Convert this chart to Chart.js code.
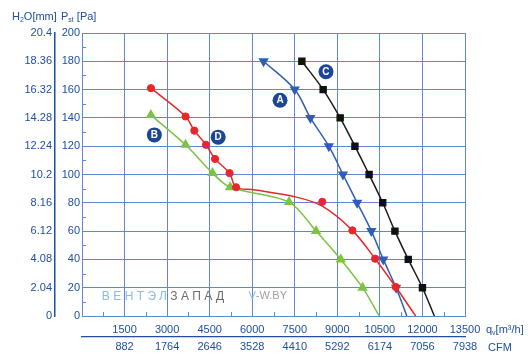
<!DOCTYPE html>
<html>
<head>
<meta charset="utf-8">
<script src="https://cdn.jsdelivr.net/npm/chart.js@4/dist/chart.umd.min.js"></script>
<style>
  body { margin: 0; background: #fff; }
  #wrap { width: 532px; height: 361px; position: relative; }
</style>
</head>
<body>
<div id="wrap"><canvas id="grafico"></canvas></div>
<script>
// datos
var flowTicks = ['1500', '3000', '4500', '6000', '7500', '9000', '10500', '12000', '13500'];
var cfmTicks = ['882', '1764', '2646', '3528', '4410', '5292', '6174', '7056', '7938'];
var h2oTicks = ['0', '2.04', '4.08', '6.12', '8.16', '10.2', '12.24', '14.28', '16.32', '18.36', '20.4'];

// curva A (azul)
var flowA = [6400, 7500, 8050, 8700, 9200, 9700, 10200, 10620, 11070, 11450];
var pressA = [180, 160, 140, 120, 100, 80, 60, 40, 20, 0];
// curva B (verde)
var flowB = [2430, 3650, 4600, 5220, 7300, 8250, 9120, 9890, 10480];
var pressB = [142, 121, 101, 91, 80.5, 60, 40, 20, 0];
// curva C (negra)
var flowC = [7750, 8500, 9100, 9620, 10120, 10600, 11030, 11500, 12000, 12420];
var pressC = [180, 160, 140, 120, 100, 80, 60, 40, 20, 0];
// curva D (roja): la linea y los puntos no coinciden del todo
var flowDLine = [2430, 3650, 3960, 4370, 4690, 5200, 5430, 6000, 7500, 8470, 9530, 10330, 11060, 11760];
var pressDLine = [161, 141, 131, 121, 111, 101, 91, 89.4, 84.3, 77.6, 60.5, 40.5, 20.5, 0];
var flowDMarks = [2430, 3650, 3960, 4370, 4690, 5200, 5430, 8470, 9530, 10330, 11060];
var pressDMarks = [161, 141, 131, 121, 111, 101, 91, 80.7, 60.5, 40.5, 20.5];

// etiquetas de las curvas
var badgeText = ['A', 'B', 'C', 'D'];
var badgeFlow = [6980, 2550, 8600, 4800];
var badgePress = [152.5, 128, 172.6, 126.4];

var azulTexto = '#1f4fa0';
var azulGrid = '#6088d0';
var fuente = 'Liberation Sans';

function puntos(xs, ys) {
  return xs.map(function (x, i) { return { x: x, y: ys[i] }; });
}

function textoRico(ctx, partes, x, y) {
  // partes: [texto, subindice]
  partes.forEach(function (p) {
    ctx.font = (p[1] ? '7px ' : '11px ') + fuente;
    ctx.fillText(p[0], x, p[1] ? y + 3 : y);
    x += ctx.measureText(p[0]).width;
  });
}

var decoracion = {
  id: 'decoracion',
  beforeDatasetsDraw: function (chart) {
    var ctx = chart.ctx, sx = chart.scales.x, sy = chart.scales.y, area = chart.chartArea;
    ctx.save();
    // marcas menores
    ctx.strokeStyle = azulGrid;
    ctx.lineWidth = 1;
    ctx.beginPath();
    for (var v = 10; v < 200; v += 20) {
      var py = Math.round(sy.getPixelForValue(v)) + 0.5;
      ctx.moveTo(area.left, py); ctx.lineTo(area.left + 4, py);
    }
    for (var f = 750; f < 13500; f += 1500) {
      var px = Math.round(sx.getPixelForValue(f)) + 0.5;
      ctx.moveTo(px, area.bottom); ctx.lineTo(px, area.bottom - 4);
    }
    ctx.stroke();
    // marca de agua
    var wx = sx.getPixelForValue(700), wy = sy.getPixelForValue(14);
    ctx.textBaseline = 'middle';
    ctx.font = '12px ' + fuente;
    ctx.letterSpacing = '3.4px';
    ctx.fillStyle = '#86bde8';
    ctx.fillText('ВЕНТЭЛ', wx, wy);
    wx += ctx.measureText('ВЕНТЭЛ').width;
    ctx.fillStyle = '#6b6b6b';
    ctx.fillText('ЗАПАД', wx, wy);
    ctx.letterSpacing = '0px';
    ctx.font = '11px ' + fuente;
    var vx = sx.getPixelForValue(5870);
    ctx.fillStyle = '#86bde8';
    ctx.fillText('V', vx, wy);
    ctx.fillStyle = '#a0a0a0';
    ctx.fillText('-W.BY', vx + ctx.measureText('V').width, wy);
    ctx.restore();
  },
  afterDraw: function (chart) {
    var ctx = chart.ctx, sx = chart.scales.x, sy = chart.scales.y, area = chart.chartArea;
    ctx.save();
    ctx.fillStyle = azulTexto;
    ctx.textBaseline = 'middle';
    textoRico(ctx, [['H', 0], ['2', 1], ['O[mm]', 0]], 12, 17);
    textoRico(ctx, [['P', 0], ['st', 1], [' [Pa]', 0]], 61, 17);
    textoRico(ctx, [['q', 0], ['v', 1], ['[m³/h]', 0]], area.right + 21, area.bottom + 14);
    ctx.font = '11px ' + fuente;
    ctx.fillText('CFM', area.right + 23, area.bottom + 32);
    // circulos con letras
    badgeText.forEach(function (t, i) {
      var cx = sx.getPixelForValue(badgeFlow[i]), cy = sy.getPixelForValue(badgePress[i]);
      ctx.beginPath();
      ctx.arc(cx, cy, 7.5, 0, Math.PI * 2);
      ctx.fillStyle = '#1c4595';
      ctx.fill();
      ctx.fillStyle = '#fff';
      ctx.font = 'bold 10px ' + fuente;
      ctx.textAlign = 'center';
      ctx.fillText(t, cx, cy + 0.5);
    });
    ctx.restore();
  }
};

var grafico = new Chart(document.getElementById('grafico').getContext('2d'), {
  type: 'line',
  data: {
    datasets: [
      {
        label: 'D', data: puntos(flowDLine, pressDLine),
        borderColor: '#e8262b', borderWidth: 1.5, pointRadius: 0, tension: 0.35
      },
      {
        label: 'D puntos', data: puntos(flowDMarks, pressDMarks), showLine: false,
        pointStyle: 'circle', pointRadius: 3.6,
        pointBackgroundColor: '#e8262b', pointBorderColor: '#e8262b'
      },
      {
        label: 'B', data: puntos(flowB, pressB),
        borderColor: '#7dc243', borderWidth: 1.5, tension: 0.3,
        pointStyle: 'triangle',
        pointRadius: function (c) { return c.dataIndex === flowB.length - 1 ? 0 : 4.5; },
        pointBackgroundColor: '#7dc243', pointBorderColor: '#7dc243'
      },
      {
        label: 'A', data: puntos(flowA, pressA),
        borderColor: '#2f5fb3', borderWidth: 1.5, tension: 0.35,
        pointStyle: 'triangle', rotation: 180,
        pointRadius: function (c) { return c.dataIndex === flowA.length - 1 ? 0 : 4.5; },
        pointBackgroundColor: '#2f5fb3', pointBorderColor: '#2f5fb3'
      },
      {
        label: 'C', data: puntos(flowC, pressC),
        borderColor: '#1a1a1a', borderWidth: 1.5, tension: 0.35,
        pointStyle: 'rect',
        pointRadius: function (c) { return c.dataIndex === flowC.length - 1 ? 0 : 4.2; },
        pointBackgroundColor: '#111', pointBorderColor: '#111'
      }
    ]
  },
  options: {
    responsive: true,
    maintainAspectRatio: false,
    animation: false,
    layout: { padding: { left: 0, right: 67, top: 33, bottom: 0 } },
    plugins: { legend: { display: false }, tooltip: { enabled: false } },
    scales: {
      x: {
        type: 'linear', position: 'bottom', min: 0, max: 13500,
        grid: { color: azulGrid, drawTicks: false },
        border: { color: azulGrid },
        ticks: {
          stepSize: 1500, padding: 7, color: azulTexto, font: { family: fuente, size: 11 },
          maxRotation: 0, autoSkip: false,
          callback: function (v, i) { return i === 0 ? '' : flowTicks[i - 1]; }
        },
        afterFit: function (s) { s.height = 21; }
      },
      x2: {
        type: 'linear', position: 'bottom', min: 0, max: 13500,
        grid: { display: false, drawTicks: false },
        border: { display: true, color: azulTexto, width: 1.2 },
        ticks: {
          stepSize: 1500, padding: 3, color: azulTexto, font: { family: fuente, size: 11 },
          maxRotation: 0, autoSkip: false,
          callback: function (v, i) { return i === 0 ? '' : cfmTicks[i - 1]; }
        },
        afterFit: function (s) { s.height = 24; }
      },
      y: {
        type: 'linear', position: 'left', min: 0, max: 200,
        grid: { color: azulGrid, drawTicks: false },
        border: { color: azulGrid },
        ticks: { stepSize: 20, padding: 2, color: azulTexto, font: { family: fuente, size: 11 } },
        afterFit: function (s) { s.width = 27; }
      },
      h2o: {
        type: 'linear', position: 'left', min: 0, max: 200, weight: 1,
        grid: { display: false, drawTicks: false },
        border: { display: true, color: azulTexto, width: 1.5 },
        ticks: {
          stepSize: 20, padding: 3, color: azulTexto, font: { family: fuente, size: 11 },
          callback: function (v, i) { return h2oTicks[i]; }
        },
        afterFit: function (s) { s.width = 55; }
      }
    }
  },
  plugins: [decoracion]
});
</script>
</body>
</html>
